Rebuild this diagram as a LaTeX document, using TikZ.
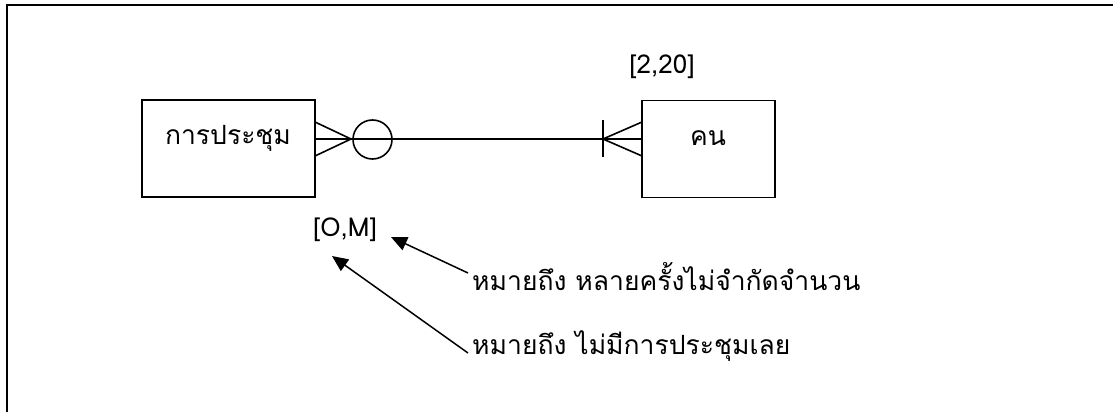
\documentclass[tikz,border=0pt]{standalone}
\usepackage{fontspec}
\setmainfont{Loma}
\newfontfamily\thaifont[Script=Thai]{Loma}
\usetikzlibrary{arrows.meta}
\begin{document}
\begin{tikzpicture}[x=1pt,y=-1pt,
  ent/.style={draw,line width=1.6pt,minimum width=173pt,minimum height=97pt,inner sep=0pt},
  lbl/.style={inner sep=0pt,font=\thaifont\fontsize{26pt}{30pt}\selectfont},
  thl/.style={inner sep=0pt,font=\thaifont\fontsize{26.5pt}{30pt}\selectfont},
  ln/.style={line width=1.6pt},
  note/.style={line width=1.5pt,-{Triangle[length=16pt,width=14pt]}}]
\useasboundingbox (0,0) rectangle (1113,412);
% frame
\draw[line width=1.8pt] (7,412) -- (7,5) -- (1113,5);
% entities
\node[ent] (lbox) at (228.5,148.5) {};
\node[ent,minimum width=133pt] (rbox) at (708.5,149) {};
\node[thl] (ltext) at (228,138) {การประชุม};
\node[thl] (rtext) at (708,138) {คน};
% connector
\coordinate (lj) at (315,139);
\coordinate (rj) at (642,139);
\coordinate (lfoot) at (351,139);
\coordinate (rfoot) at (603,139);
\draw[ln] (lj) -- (rj);
\node[draw,circle,ln,minimum size=39pt,inner sep=0pt] (opt) at (372.5,139.5) {};
\draw[ln] (315,122) -- (lfoot) -- (315,156);
\draw[ln] (642,122) -- (rfoot) -- (642,156);
\draw[ln] (603,120) -- (603,157);
% labels
\node[lbl] (card2) at (662,67) {[2,20]};
\node[lbl] (card1) at (345,230) {[O,M]};
\node[thl,anchor=west] (n1) at (472,277) {หมายถึง หลายครั้งไม่จำกัดจำนวน};
\node[thl,anchor=west] (n2) at (472,346) {หมายถึง ไม่มีการประชุมเลย};
\coordinate (tail1) at (468,273);
\coordinate (tip1) at (391,237);
\coordinate (tail2) at (468,353);
\coordinate (tip2) at (332,256);
\draw[note] (tail1) -- (tip1);
\draw[note] (tail2) -- (tip2);
\end{tikzpicture}
\end{document}
